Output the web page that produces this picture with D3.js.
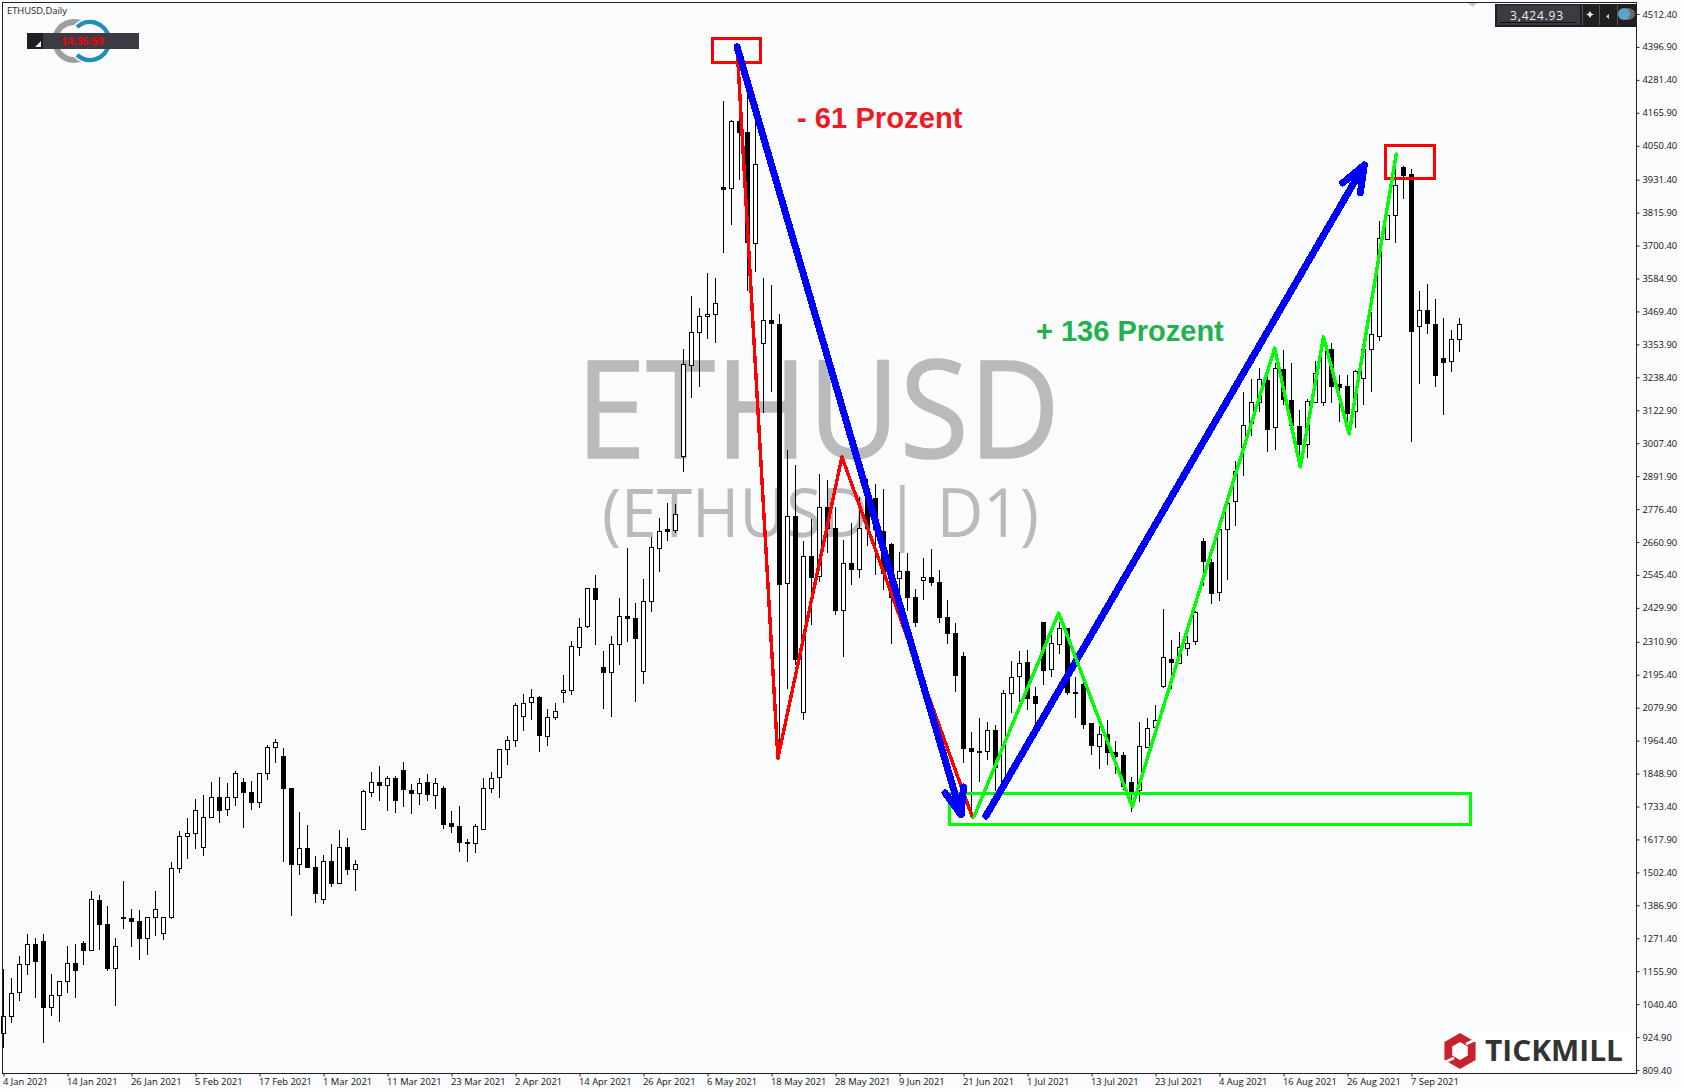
<!DOCTYPE html>
<html>
<head>
<meta charset="utf-8">
<title>ETHUSD,Daily</title>
<script src="https://cdn.jsdelivr.net/npm/d3@7"></script>
<style>
  html, body { margin: 0; padding: 0; background: #fff; }
  svg { display: block; }
  .axis text { font-family: "Open Sans", sans-serif; font-size: 9.4px; fill: #111; }
  .axis line { stroke: #222; }
</style>
</head>
<body>
<div id="chart"></div>
<script>
// values, one entry per daily bar
const opens = [941,1001,1082,1180,1250,1261,1029,1071,1119,1183,1254,1229,1404,1320,1166,1345,1341,1331,1271,1345,1289,1344,1517,1628,1639,1590,1695,1766,1723,1766,1818,1783,1748,1850,1941,1909,1797,1531,1587,1520,1407,1541,1463,1590,1512,1653,1786,1821,1810,1835,1860,1793,1783,1818,1776,1800,1674,1664,1608,1604,1657,1800,1835,1934,1965,2053,2098,2116,1983,2049,2134,2141,2295,2364,2498,2221,2204,2302,2400,2393,2207,2453,2642,2706,2705,2960,3284,3399,3455,3462,3907,3901,4136,4097,3711,3357,3438,3427,2516,2752,2064,2612,2540,2783,2709,2422,2586,2565,2808,2815,2700,2654,2534,2558,2468,2526,2537,2520,2397,2341,2260,1938,1928,1926,2001,1815,2130,2189,2239,2121,2379,2214,2302,2358,2134,2163,2025,1944,1986,1923,1913,1818,1790,1944,2010,2153,2249,2239,2291,2311,2663,2592,2483,2709,2804,2993,3077,3153,3228,3063,3268,3159,3068,3004,3153,3150,3338,3214,3208,3118,3238,3337,3381,3724,3807,3975,3951,3417,3474,3425,3305,3295,3372];
const highs = [1162,1131,1209,1285,1271,1285,1146,1123,1244,1251,1261,1437,1423,1383,1271,1472,1374,1370,1345,1437,1347,1539,1646,1693,1759,1774,1819,1837,1817,1858,1832,1823,1850,1948,1969,1937,1799,1714,1669,1560,1563,1602,1651,1623,1546,1791,1854,1875,1840,1842,1889,1814,1835,1847,1835,1804,1716,1735,1618,1671,1835,1853,1934,1980,2095,2127,2145,2122,2074,2095,2194,2312,2394,2498,2544,2278,2331,2463,2640,2446,2530,2677,2744,2796,2794,3338,3523,3483,3603,3585,4207,4140,4172,4228,4129,3585,3561,3462,2984,2931,2665,2742,2900,2879,2783,2668,2727,2820,2881,2865,2847,2657,2626,2621,2496,2604,2635,2563,2458,2377,2274,1994,2043,2031,2019,2142,2244,2279,2282,2154,2382,2335,2381,2358,2188,2165,2027,2015,2037,1963,1923,1837,2030,2042,2089,2426,2317,2345,2331,2419,2675,2603,2705,2815,2945,3188,3233,3271,3239,3288,3335,3288,3124,3162,3296,3381,3358,3247,3247,3264,3346,3469,3785,3808,4026,3980,3968,3541,3566,3513,3447,3405,3447];
const lows = [885,973,1053,1144,1063,905,1000,979,1081,1063,1178,1229,1230,1158,1035,1304,1242,1195,1213,1279,1265,1340,1501,1549,1584,1561,1695,1676,1700,1735,1659,1721,1728,1826,1886,1539,1351,1493,1519,1396,1393,1452,1460,1493,1438,1653,1768,1754,1719,1712,1730,1708,1740,1754,1726,1655,1641,1575,1540,1571,1657,1782,1764,1879,1943,1999,2037,1925,1945,2037,2097,2124,2262,2360,2301,2076,2048,2231,2311,2101,2164,2415,2557,2665,2693,2907,3167,3205,3374,3357,3673,3774,3930,3542,3606,3115,3188,1920,2147,2230,2035,2371,2519,2624,2405,2259,2510,2536,2647,2545,2493,2302,2399,2419,2364,2458,2505,2378,2302,2136,1887,1698,1821,1897,1786,1803,2060,2101,2072,1996,2160,2188,2268,2124,2045,2004,1914,1864,1879,1849,1791,1715,1750,1937,2001,2150,2144,2235,2261,2301,2506,2444,2454,2527,2717,2893,3033,3118,2978,2982,3142,3054,2925,2955,3147,3138,3147,3080,3077,3060,3142,3188,3367,3720,3711,3865,3013,3215,3391,3206,3107,3257,3327];
const closes = [1000,1081,1180,1250,1189,1028,1071,1120,1183,1158,1228,1408,1319,1165,1243,1340,1330,1270,1345,1373,1345,1517,1629,1639,1720,1695,1766,1722,1766,1850,1782,1747,1850,1941,1958,1797,1531,1587,1519,1429,1541,1463,1590,1512,1531,1786,1821,1811,1835,1758,1793,1783,1817,1775,1817,1673,1662,1608,1603,1664,1800,1834,1934,1965,2088,2098,2116,1982,2048,2070,2141,2295,2364,2498,2458,2204,2302,2400,2392,2323,2453,2642,2700,2700,2760,3284,3399,3455,3462,3500,3900,4136,4096,3710,3988,3438,3426,2516,2751,2252,2611,2540,2783,2709,2423,2586,2564,2709,2709,2708,2551,2469,2558,2466,2382,2537,2519,2396,2340,2192,1936,1926,1925,2001,1873,2130,2187,2236,2113,2098,2210,2305,2358,2132,2130,2024,1947,1986,1922,1908,1803,1788,1944,2010,2035,2256,2238,2294,2308,2414,2592,2483,2705,2799,2909,3070,3151,3232,3056,3271,3162,3072,3004,3155,3255,3358,3209,3202,3115,3260,3338,3389,3726,3807,3912,3946,3402,3474,3427,3245,3291,3372,3425];

const xLabels = ["4 Jan 2021","14 Jan 2021","26 Jan 2021","5 Feb 2021","17 Feb 2021","1 Mar 2021","11 Mar 2021","23 Mar 2021","2 Apr 2021","14 Apr 2021","26 Apr 2021","6 May 2021","18 May 2021","28 May 2021","9 Jun 2021","21 Jun 2021","1 Jul 2021","13 Jul 2021","23 Jul 2021","4 Aug 2021","16 Aug 2021","26 Aug 2021","7 Sep 2021"];
const xTickBars = [0,8,16,24,32,40,48,56,64,72,80,88,96,104,112,120,128,136,144,152,160,168,176];
const yTicks = [4512.4,4396.9,4281.4,4165.9,4050.4,3931.4,3815.9,3700.4,3584.9,3469.4,3353.9,3238.4,3122.9,3007.4,2891.9,2776.4,2660.9,2545.4,2429.9,2310.9,2195.4,2079.9,1964.4,1848.9,1733.4,1617.9,1502.4,1386.9,1271.4,1155.9,1040.4,924.9,809.4];

// hand drawn lines on the chart, as [bar, price]
const redZigzag = [[91.7,4397],[96.8,1903],[104.8,2959],[121.1,1697]];
const greenZigzag = [[121.3,1697],[131.9,2412],[141.1,1732],[158.9,3341],[162.1,2924],[165,3380],[168.2,3040],[174.1,4021]];
const blueDown = [[91.7,4397],[119.7,1704]];
const blueDownHead = [[117.7,1781],[119.7,1704],[120,1802]];
const blueUp = [[122.8,1700],[170.1,3983]];
const blueUpHead = [[167.4,3920],[170.1,3983],[169.6,3885]];
const redBoxes = [[88.6,94.6,4425,4344],[172.7,178.9,4053,3934]];
const greenBox = [118.2,183.4,1778,1671];

const width = 1684, height = 1092;
const background = "#f9fbfd";

let svg = d3.select("#chart")
  .append("svg")
  .attr("width", width)
  .attr("height", height);

let x = d3.scaleLinear().domain([0, 176]).range([3.5, 1411.5]);
let y = d3.scaleLinear().domain([809.4, 4512.4]).range([1070, 14]);

svg.append("rect")
  .attr("width", 1681)
  .attr("height", 1089)
  .attr("fill", background);

// watermark
svg.append("text")
  .attr("x", 576).attr("y", 458)
  .attr("textLength", 484).attr("lengthAdjust", "spacingAndGlyphs")
  .attr("font-family", "'Open Sans', sans-serif")
  .attr("font-size", 136)
  .attr("fill", "#b9babc")
  .attr("stroke", "#b9babc")
  .attr("stroke-width", 1.5)
  .text("ETHUSD");

svg.append("text")
  .attr("x", 602).attr("y", 537)
  .attr("textLength", 437).attr("lengthAdjust", "spacingAndGlyphs")
  .attr("font-family", "'Open Sans', sans-serif")
  .attr("font-size", 68)
  .attr("fill", "#b9babc")
  .text("(ETHUSD | D1)");

// candles
let bars = opens.map((o, i) => ({ i: i, o: o, h: highs[i], l: lows[i], c: closes[i] }));
let candles = svg.append("g").attr("class", "candles");

candles.selectAll("line")
  .data(bars)
  .join("line")
  .attr("x1", d => x(d.i))
  .attr("x2", d => x(d.i))
  .attr("y1", d => y(d.h))
  .attr("y2", d => y(d.l))
  .attr("stroke", "#000")
  .attr("shape-rendering", "crispEdges");

candles.selectAll("rect")
  .data(bars)
  .join("rect")
  .attr("x", d => x(d.i) - 2)
  .attr("width", 4)
  .attr("y", d => Math.round(y(Math.max(d.o, d.c))) + 0.5)
  .attr("height", d => Math.max(1, Math.round(y(Math.min(d.o, d.c)) - y(Math.max(d.o, d.c)))))
  .attr("fill", d => d.c >= d.o ? "#fff" : "#000")
  .attr("stroke", "#000")
  .attr("shape-rendering", "crispEdges");

// axes
let yAxis = d3.axisRight(y)
  .tickValues(yTicks)
  .tickFormat(d3.format(".2f"))
  .tickSize(3)
  .tickPadding(3);

svg.append("g")
  .attr("class", "axis")
  .attr("transform", "translate(1636.5,0)")
  .call(yAxis)
  .call(g => g.select(".domain").remove());

let xAxis = d3.axisBottom(x)
  .tickValues(xTickBars)
  .tickFormat((d, i) => xLabels[i])
  .tickSize(3)
  .tickPadding(2);

svg.append("g")
  .attr("class", "axis")
  .attr("transform", "translate(0,1073.5)")
  .call(xAxis)
  .call(g => g.select(".domain").remove())
  .selectAll("text")
  .attr("text-anchor", "start")
  .attr("dx", -1);

svg.append("rect")
  .attr("x", 2.5).attr("y", 2.5)
  .attr("width", 1634).attr("height", 1071)
  .attr("fill", "none")
  .attr("stroke", "#222");

// annotations
let line = d3.line().x(d => x(d[0])).y(d => y(d[1]));

function drawPath(points, color, lineWidth) {
  svg.append("path")
    .attr("d", line(points))
    .attr("fill", "none")
    .attr("stroke", color)
    .attr("stroke-width", lineWidth)
    .attr("stroke-linecap", "round")
    .attr("stroke-linejoin", "round")
    .attr("shape-rendering", "crispEdges");
}

function drawBox(b, color) {
  svg.append("rect")
    .attr("x", x(b[0]))
    .attr("y", y(b[2]))
    .attr("width", x(b[1]) - x(b[0]))
    .attr("height", y(b[3]) - y(b[2]))
    .attr("fill", "none")
    .attr("stroke", color)
    .attr("stroke-width", 3)
    .attr("shape-rendering", "crispEdges");
}

drawBox(greenBox, "#00ff00");
drawPath(redZigzag, "#ff0000", 3.4);
redBoxes.forEach(b => drawBox(b, "#ff0000"));
drawPath(blueDown, "#0000ff", 7);
drawPath(blueDownHead, "#0000ff", 7);
drawPath(blueUp, "#0000ff", 7);
drawPath(blueUpHead, "#0000ff", 7);
drawPath(greenZigzag, "#00ff00", 3.4);

svg.append("text")
  .attr("x", 797).attr("y", 128)
  .attr("font-family", "'Liberation Sans', Arial, sans-serif")
  .attr("font-weight", "bold")
  .attr("font-size", 29.2)
  .attr("fill", "#ed1c24")
  .text("- 61 Prozent");

svg.append("text")
  .attr("x", 1036).attr("y", 341)
  .attr("font-family", "'Liberation Sans', Arial, sans-serif")
  .attr("font-weight", "bold")
  .attr("font-size", 29)
  .attr("fill", "#22b14c")
  .text("+ 136 Prozent");

// top left: symbol, logo rings and clock box
svg.append("text")
  .attr("x", 7).attr("y", 14)
  .attr("font-family", "'Open Sans', sans-serif")
  .attr("font-size", 9.4)
  .attr("fill", "#222")
  .text("ETHUSD,Daily");

let arc = d3.arc().innerRadius(16).outerRadius(22);
let deg = Math.PI / 180;
let logo = svg.append("g");

[[-80, 30], [150, 260]].forEach(a => {
  logo.append("path")
    .attr("transform", "translate(74,41)")
    .attr("d", arc({ startAngle: a[0] * deg, endAngle: a[1] * deg }))
    .attr("fill", "#9d9ea0");
});
[[-45, 80], [100, 225]].forEach(a => {
  logo.append("path")
    .attr("transform", "translate(90,41)")
    .attr("d", arc({ startAngle: a[0] * deg, endAngle: a[1] * deg }))
    .attr("fill", "#1e8fb8")
    .attr("stroke", background)
    .attr("stroke-width", 1.5);
});

svg.append("rect")
  .attr("x", 27).attr("y", 33)
  .attr("width", 112).attr("height", 16)
  .attr("fill", "#3c3a42");
svg.append("rect")
  .attr("x", 27).attr("y", 33)
  .attr("width", 16).attr("height", 16)
  .attr("fill", "#1f1f22");
svg.append("path")
  .attr("d", "M35 47 L41 47 L41 41 Z")
  .attr("fill", "#e8e8e8");
svg.append("text")
  .attr("x", 82.5).attr("y", 44.5)
  .attr("text-anchor", "middle")
  .attr("font-family", "'Liberation Sans', Arial, sans-serif")
  .attr("font-weight", "bold")
  .attr("font-size", 10.5)
  .attr("fill", "#ff0000")
  .text("14:35:59");

// top right: price panel
svg.append("path")
  .attr("d", "M1468 3 L1477 3 L1472.5 7 Z")
  .attr("fill", "#c8c8c8");
svg.append("rect")
  .attr("x", 1495).attr("y", 4)
  .attr("width", 141).attr("height", 23)
  .attr("fill", "#1f1f22");
svg.append("rect")
  .attr("x", 1497).attr("y", 5)
  .attr("width", 83).attr("height", 20)
  .attr("fill", "#3c3a42");
svg.append("line")
  .attr("x1", 1499).attr("x2", 1577)
  .attr("y1", 22.5).attr("y2", 22.5)
  .attr("stroke", "#111");
svg.append("text")
  .attr("x", 1537).attr("y", 20)
  .attr("text-anchor", "middle")
  .attr("font-family", "'Open Sans', sans-serif")
  .attr("font-size", 12)
  .attr("letter-spacing", 0.8)
  .attr("fill", "#f0f0f0")
  .text("3,424.93");
[1582, 1599, 1617].forEach(px => {
  svg.append("line")
    .attr("x1", px + 0.5).attr("x2", px + 0.5)
    .attr("y1", 5).attr("y2", 25)
    .attr("stroke", "#555");
});
svg.append("path")
  .attr("d", "M1590 11 L1591.5 13.5 L1594 14.5 L1591.5 15.5 L1590 18 L1588.5 15.5 L1586 14.5 L1588.5 13.5 Z")
  .attr("fill", "#e8e8e8");
svg.append("path")
  .attr("d", "M1609 14 L1606 16.5 L1609 19 Z")
  .attr("fill", "#cfcfcf");
svg.append("ellipse")
  .attr("cx", 1628).attr("cy", 14)
  .attr("rx", 7).attr("ry", 6)
  .attr("fill", "#6a6a6e");
svg.append("circle")
  .attr("cx", 1624).attr("cy", 14)
  .attr("r", 6)
  .attr("fill", "#5aa6c8");

// bottom right: broker logo
svg.append("rect")
  .attr("x", 1444).attr("y", 1031)
  .attr("width", 189).attr("height", 41)
  .attr("fill", "#fff");
let hexagon = r => d3.range(6)
  .map(k => [1460 + r * Math.sin(k * 60 * deg), 1051 - r * Math.cos(k * 60 * deg)].join(","))
  .join(" ");
svg.append("polygon").attr("points", hexagon(18)).attr("fill", "#c8232c");
svg.append("polygon").attr("points", hexagon(9)).attr("fill", "#fff");
svg.append("path")
  .attr("d", "M1466 1044 L1477 1039")
  .attr("stroke", "#fff").attr("stroke-width", 2.5);
svg.append("path")
  .attr("d", "M1454 1058 L1443 1063")
  .attr("stroke", "#fff").attr("stroke-width", 2.5);
svg.append("text")
  .attr("x", 1485).attr("y", 1061)
  .attr("textLength", 138).attr("lengthAdjust", "spacingAndGlyphs")
  .attr("font-family", "'Open Sans', sans-serif")
  .attr("font-weight", "bold")
  .attr("font-size", 28)
  .attr("fill", "#333")
  .text("TICKMILL");
</script>
</body>
</html>
